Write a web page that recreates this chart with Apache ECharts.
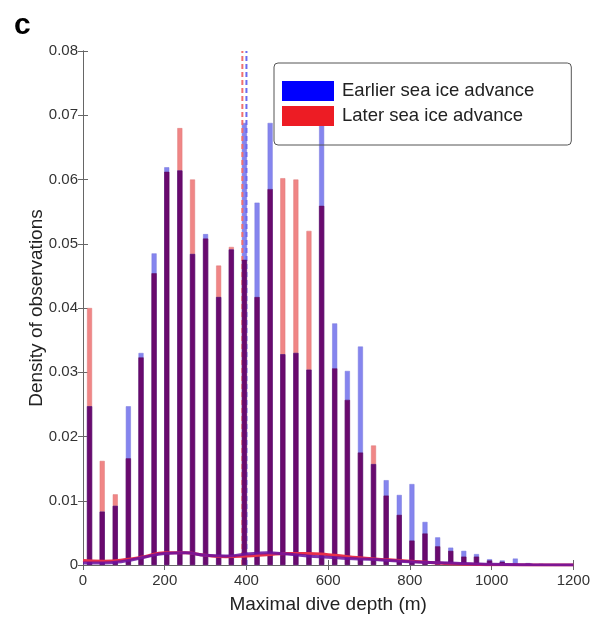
<!DOCTYPE html>
<html lang="en">
<head>
    <meta charset="UTF-8" />
    <title>Maximal dive depth</title>
    <script src="https://cdn.jsdelivr.net/npm/echarts@6/dist/echarts.min.js"></script>
    <style>
        html, body { margin: 0; padding: 0; background: #fff; }
    </style>
</head>
<body>
    <div style="width: 593px; height: 619px" id="chart"></div>
    <script>
        // 直方图区间中心 (m)
        const binCenters = [16, 47, 79, 111, 142, 174, 205, 237, 268, 300, 332, 363, 395, 426, 458, 489, 521, 553, 584,
            616, 647, 679, 711, 742, 774, 805, 837, 868, 900, 932, 963, 995, 1026, 1058, 1089, 1121, 1153, 1184];
        // Earlier sea ice advance
        const earlier = [0.0247, 0.0083, 0.0092, 0.0247, 0.0330, 0.0485, 0.0619, 0.0614, 0.0484, 0.0515, 0.0417, 0.0491,
            0.0688, 0.0564, 0.0688, 0.0328, 0.0330, 0.0304, 0.0690, 0.0376, 0.0302, 0.0340, 0.0157, 0.0132, 0.0109,
            0.0126, 0.0067, 0.0043, 0.0027, 0.0022, 0.0017, 0.0009, 0.0007, 0.0010, 0.0003, 0.0002, 0.0001, 0.0001];
        // Later sea ice advance
        const later = [0.0400, 0.0162, 0.0110, 0.0166, 0.0323, 0.0454, 0.0612, 0.0680, 0.0600, 0.0508, 0.0466, 0.0495,
            0.0475, 0.0417, 0.0585, 0.0602, 0.0600, 0.0520, 0.0559, 0.0306, 0.0257, 0.0175, 0.0186, 0.0108, 0.0078,
            0.0038, 0.0049, 0.0029, 0.0022, 0.0013, 0.0013, 0.0007, 0.0005, 0.0002, 0.0002, 0.0001, 0.0001, 0];
        // 拟合曲线
        const fitX = [0, 50, 100, 150, 200, 250, 300, 350, 400, 450, 500, 550, 600, 650, 700, 750, 800, 850, 900, 950,
            1000, 1100, 1200];
        const fitLater = [0.0007, 0.0006, 0.0008, 0.0013, 0.0019, 0.0019, 0.0015, 0.0013, 0.0014, 0.0016, 0.0018,
            0.0018, 0.0016, 0.0013, 0.0010, 0.0008, 0.0006, 0.0004, 0.0002, 0.0001, 0.00005, 0, 0];
        const fitEarlier = [0.0003, 0.0003, 0.0006, 0.0012, 0.0018, 0.0019, 0.0015, 0.0014, 0.0017, 0.0019, 0.0017,
            0.0014, 0.0012, 0.0010, 0.0009, 0.0007, 0.0005, 0.0004, 0.0003, 0.0002, 0.0001, 0.00003, 0];
        // 均值 (虚线)
        const meanLater = 390;
        const meanEarlier = 400;

        const myChart = echarts.init(document.getElementById("chart"));

        const pairs = (xs, ys) => xs.map((x, i) => [x, ys[i]]);
        const overlap = binCenters.map((x, i) => [x, Math.min(earlier[i], later[i])]);
        const font = "Liberation Sans, Arial, sans-serif";
        const barW = 5;

        option = {
            animation: false,
            textStyle: { fontFamily: font },
            graphic: [
                {
                    type: "text",
                    left: 14,
                    top: 11,
                    style: { text: "c", font: "bold 30px " + font, fill: "#000" },
                },
            ],
            legend: {
                left: 274,
                top: 63,
                orient: "vertical",
                padding: [18, 37, 19, 8],
                itemWidth: 52,
                itemHeight: 20,
                itemGap: 5,
                borderColor: "#555",
                borderWidth: 1,
                borderRadius: 4,
                selectedMode: false,
                textStyle: { fontSize: 18.5, color: "#222", fontFamily: font, padding: [0, 0, 0, 3] },
                data: [
                    { name: "Earlier sea ice advance", icon: "rect", itemStyle: { color: "#0000ff", opacity: 1, borderWidth: 0 } },
                    { name: "Later sea ice advance", icon: "rect", itemStyle: { color: "#ed1c24", opacity: 1, borderWidth: 0 } },
                ],
            },
            grid: { left: 83, right: 18, top: 51, bottom: 54 },
            xAxis: [
                {
                    type: "value",
                    min: 0,
                    max: 1200,
                    interval: 200,
                    name: "Maximal dive depth (m)",
                    nameLocation: "middle",
                    nameGap: 30,
                    nameTextStyle: { fontSize: 19, color: "#222" },
                    axisLine: { lineStyle: { color: "#666" } },
                    axisTick: { inside: true, length: 5, lineStyle: { color: "#666" } },
                    axisLabel: { fontSize: 15, color: "#333", margin: 8, formatter: (v) => String(v) },
                    splitLine: { show: false },
                },
                {
                    type: "value",
                    position: "top",
                    min: 0,
                    max: 1200,
                    interval: 200,
                    axisLine: { show: true, lineStyle: { color: "#666" } },
                    axisTick: { inside: true, length: 5, lineStyle: { color: "#666" } },
                    axisLabel: { show: false },
                    splitLine: { show: false },
                },
            ],
            yAxis: [
                {
                    type: "value",
                    min: 0,
                    max: 0.08,
                    interval: 0.01,
                    name: "Density of observations",
                    nameLocation: "middle",
                    nameGap: 37,
                    nameMoveOverlap: false,
                    nameTextStyle: { fontSize: 19, color: "#222" },
                    axisLine: { show: true, lineStyle: { color: "#666" } },
                    axisTick: { show: true, inside: true, length: 5, lineStyle: { color: "#666" } },
                    axisLabel: { fontSize: 15, color: "#333", margin: 5 },
                    splitLine: { show: false },
                },
                {
                    type: "value",
                    position: "right",
                    min: 0,
                    max: 0.08,
                    interval: 0.01,
                    axisLine: { show: true, lineStyle: { color: "#666" } },
                    axisTick: { show: true, inside: true, length: 5, lineStyle: { color: "#666" } },
                    axisLabel: { show: false },
                    splitLine: { show: false },
                },
            ],
            series: [
                {
                    name: "Later sea ice advance",
                    type: "bar",
                    barWidth: barW,
                    barGap: "-100%",
                    z: 2,
                    data: pairs(binCenters, later),
                    itemStyle: { color: "#f08686", borderColor: "#dc7878", borderWidth: 0.5 },
                },
                {
                    name: "Earlier sea ice advance",
                    type: "bar",
                    barWidth: barW,
                    barGap: "-100%",
                    z: 2,
                    data: pairs(binCenters, earlier),
                    itemStyle: { color: "#8585ee", borderColor: "#7878dc", borderWidth: 0.5 },
                },
                {
                    name: "overlap",
                    type: "bar",
                    barWidth: barW,
                    barGap: "-100%",
                    z: 4,
                    data: overlap,
                    itemStyle: { color: "#6a0a6e", borderColor: "#5a0a5e", borderWidth: 0.5 },
                },
                {
                    name: "mean later",
                    type: "line",
                    z: 3,
                    symbol: "none",
                    data: [[meanLater, 0], [meanLater, 0.08]],
                    lineStyle: { color: "#f07070", width: 2, type: [5, 3] },
                },
                {
                    name: "mean earlier",
                    type: "line",
                    z: 3,
                    symbol: "none",
                    data: [[meanEarlier, 0], [meanEarlier, 0.08]],
                    lineStyle: { color: "#6a6af0", width: 2, type: [5, 3] },
                },
                {
                    name: "fit later",
                    type: "line",
                    z: 5,
                    smooth: true,
                    symbol: "none",
                    data: pairs(fitX, fitLater),
                    lineStyle: { color: "#e8304a", width: 3 },
                },
                {
                    name: "fit earlier",
                    type: "line",
                    z: 6,
                    smooth: true,
                    symbol: "none",
                    data: pairs(fitX, fitEarlier),
                    lineStyle: { color: "#6a10a0", width: 3, opacity: 0.85 },
                },
            ],
        };

        myChart.setOption(option);
    </script>
</body>
</html>
